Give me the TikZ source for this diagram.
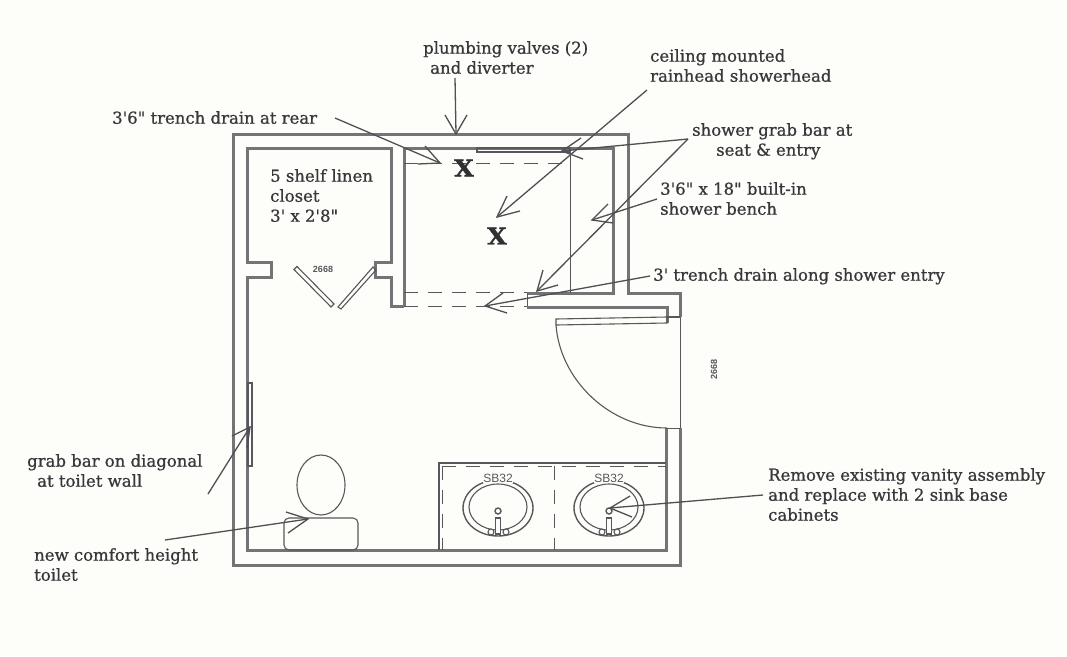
\documentclass[tikz,border=0pt]{standalone}
\usepackage{fontspec}
\setmainfont{DejaVu Serif}
\setsansfont{Liberation Sans}
\newfontfamily\notefont{DejaVu Serif}[FakeBold=0.8]
\newfontfamily\xfont{DejaVu Serif Bold}[FakeBold=1.2]
\definecolor{paper}{HTML}{FDFDF9}
\definecolor{wallc}{HTML}{747476}
\definecolor{inkc}{HTML}{58585C}
\definecolor{leadc}{HTML}{505054}
\definecolor{txtc}{HTML}{38383C}
\definecolor{xc}{HTML}{303034}
\tikzset{
  wall/.style={draw=wallc,line width=3pt,line join=miter},
  thinwall/.style={draw=inkc,line width=1pt},
  fixture/.style={draw=inkc,line width=1.1pt},
  hiddenline/.style={draw=inkc,line width=1pt,dash pattern=on 14pt off 10pt},
  leader/.style={draw=leadc,line width=1.3pt},
  label/.style={font=\notefont\fontsize{16.5}{20}\selectfont,text=txtc,align=left,inner sep=0pt,anchor=north west},
  tag/.style={font=\sffamily\bfseries\fontsize{9}{9}\selectfont,text=inkc,inner sep=0pt},
  sinktag/.style={font=\sffamily\fontsize{12}{12}\selectfont,text=inkc,inner sep=0pt},
  xmark/.style={font=\xfont\fontsize{23}{23}\selectfont,text=xc,inner sep=0pt,xscale=1.1},
}
\newcommand{\leadline}[4]{%
  \draw[leader] #1 -- #2;
  \draw[leader] #3 -- #2 -- #4;}
\begin{document}
\begin{tikzpicture}[x=1pt,y=-1pt]
\useasboundingbox (0,0) rectangle (1067,656);
\fill[paper] (0,0) rectangle (1067,656);
% outer wall
\draw[wall] (680,428) -- (680,565) -- (233,565) -- (233,134) -- (628,134) -- (628,293) -- (680,293) -- (680,317);
\draw[thinwall] (680,317) -- (680,428);
% inner wall, closet
\draw[wall] (404,306) -- (391,306) -- (391,277) -- (375,277) -- (375,262) -- (391,262) -- (391,148) -- (247,148) -- (247,262) -- (271,262) -- (271,277) -- (247,277) -- (247,550) -- (666,550) -- (666,428);
\draw[thinwall] (666,428) -- (680,428);
% shower
\draw[wall] (404,306) -- (404,148) -- (613,148) -- (613,293) -- (527,293);
\draw[thinwall] (527,293) -- (527,307);
\draw[wall] (527,307) -- (667,307) -- (667,323);
\draw[thinwall] (570,148) -- (570,293);
\draw[fixture] (477,148) rectangle (570,152);
\draw[hiddenline] (404,163) -- (570,163);
\draw[hiddenline] (404,292) -- (527,292);
\draw[hiddenline] (404,306) -- (527,306);
\node[xmark] (xa) at (464,168) {X};
\node[xmark] (xb) at (497,236) {X};
% closet doors
\draw[fixture] (297,266.5) -- (334,304) -- (331,307) -- (294,269.5) -- cycle;
\draw[fixture] (338,307) -- (373,267) -- (376,270) -- (341,309) -- cycle;
\node[tag] (closetcode) at (323,269) {2668};
% entry door
\draw[fixture] (667,317) -- (680,317);
\draw[fixture] (556,319) -- (667,317) -- (667,323) -- (556,325) -- cycle;
\draw[fixture] (556,325) .. controls (560,380) and (610,428) .. (667,428);
\node[tag,rotate=90] (doorcode) at (714,369) {2668};
% grab bar
\draw[fixture] (248,383) rectangle (252,466);
% toilet
\draw[fixture] (321,485) ellipse [x radius=24,y radius=30];
\draw[fixture,rounded corners=5pt] (284,518) rectangle (358,550);
% vanity
\draw[fixture] (439,550) -- (439,463) -- (666,463);
\draw[hiddenline] (442,466) -- (666,466);
\draw[hiddenline] (442,466) -- (442,550);
\draw[hiddenline] (554,466) -- (554,550);
\foreach \cx/\nm in {498/a,609/b}{
  \draw[fixture,line width=1.4pt] (\cx,508) ellipse [x radius=35,y radius=28];
  \draw[fixture] (\cx,507) ellipse [x radius=29,y radius=23];
  \draw[fixture,line width=1.4pt,fill=paper] (\cx,511) circle [radius=3];
  \draw[fixture,fill=paper] (\cx-2.5,518) rectangle (\cx+2.5,534);
  \draw[fixture,fill=paper] (\cx-7,532) circle [radius=3];
  \draw[fixture,fill=paper] (\cx+8,532) circle [radius=3];
  \node[sinktag,fill=paper,inner sep=.5pt] (sink\nm) at (\cx,478) {SB32};
}
% labels
\node[label] (valves) at (423,41) {plumbing valves (2)\\\hspace*{7pt}and diverter};
\node[label] (rain) at (650,49) {ceiling mounted\\rainhead showerhead};
\node[label] (rear) at (112,111) {3'6" trench drain at rear};
\node[label] (seat) at (692,123) {shower grab bar at\\\hspace*{24pt}seat \& entry};
\node[label] (bench) at (660,182) {3'6" x 18" built-in\\shower bench};
\node[label] (entry) at (653,268) {3' trench drain along shower entry};
\node[label] (linen) at (270,169) {5 shelf linen\\closet\\3' x 2'8"};
\node[label] (diag) at (27,454) {grab bar on diagonal\\\hspace*{10pt}at toilet wall};
\node[label] (comfort) at (34,548) {new comfort height\\toilet};
\node[label] (vanity) at (768,468) {Remove existing vanity assembly\\and replace with 2 sink base\\cabinets};
% leaders
\coordinate (s1) at (455,78); \coordinate (t1) at (456,134);
\coordinate (s2) at (335,118); \coordinate (t2) at (440,163);
\coordinate (s3) at (647,90); \coordinate (t3) at (497,217);
\coordinate (s4) at (688,139); \coordinate (t4) at (562,151);
\coordinate (t5) at (537,291);
\coordinate (s6) at (657,199); \coordinate (t6) at (592,220);
\coordinate (s7) at (650,276); \coordinate (t7) at (485,306);
\coordinate (s8) at (208,494); \coordinate (t8) at (250,427);
\coordinate (s9) at (165,540); \coordinate (t9) at (308,519);
\coordinate (s10) at (763,495); \coordinate (t10) at (610,508);
\leadline{(s1)}{(t1)}{(445,115)}{(467,115)}
\leadline{(s2)}{(t2)}{(425,146)}{(418,164)}
\leadline{(s3)}{(t3)}{(507,196)}{(520,211)}
\leadline{(s4)}{(t4)}{(581,138)}{(583,159)}
\leadline{(s4)}{(t5)}{(543,270)}{(558,285)}
\leadline{(s6)}{(t6)}{(608,204)}{(613,223)}
\leadline{(s7)}{(t7)}{(503,293)}{(507,313)}
\leadline{(s8)}{(t8)}{(232,436)}{(247,448)}
\leadline{(s9)}{(t9)}{(286,512)}{(288,533)}
\leadline{(s10)}{(t10)}{(630,496)}{(632,517)}
\end{tikzpicture}
\end{document}
